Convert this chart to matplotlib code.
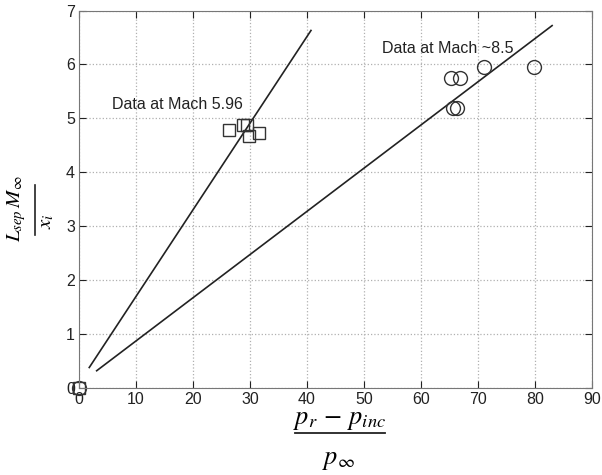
import matplotlib
matplotlib.use("Agg")
import matplotlib.pyplot as plt
from matplotlib.lines import Line2D

# data
sq_x = [0, 26.4, 28.7, 29.5, 29.9, 31.5]
sq_y = [0, 4.78, 4.88, 4.88, 4.67, 4.72]
circ_x = [0, 65.3, 66.9, 71.0, 79.8, 65.6, 66.4]
circ_y = [0, 5.74, 5.74, 5.95, 5.95, 5.20, 5.20]

fit1_x = [1.8, 40.7]
fit1_y = [0.38, 6.63]
fit2_x = [3.1, 83.0]
fit2_y = [0.32, 6.72]

xticks = list(range(0, 91, 10))
yticks = list(range(0, 8))

plt.rcParams["font.family"] = ["Liberation Sans", "DejaVu Sans"]
plt.rcParams["mathtext.fontset"] = "stix"

W, H = 602, 475
fig = plt.figure(figsize=(W / 100, H / 100), dpi=100)
ax = fig.add_axes([79 / W, 1 - 388 / H, (592 - 79) / W, (388 - 10.5) / H])

ax.plot(fit1_x, fit1_y, color="#222222", lw=1.2)
ax.plot(fit2_x, fit2_y, color="#222222", lw=1.2)
ax.plot(sq_x, sq_y, ls="none", marker="s", ms=9, mfc="none", mec="#333333",
        mew=1.0, clip_on=False)
ax.plot(circ_x, circ_y, ls="none", marker="o", ms=10, mfc="none", mec="#333333",
        mew=1.0, clip_on=False)

ax.text(5.8, 5.25, "Data at Mach 5.96", fontsize=11.5, va="center", color="#222222")
ax.text(53.2, 6.3, "Data at Mach ~8.5", fontsize=11.5, va="center", color="#222222")

ax.set_xlim(0, 90)
ax.set_ylim(0, 7)
ax.set_xticks(xticks)
ax.set_yticks(yticks)
ax.tick_params(direction="in", length=5, labelsize=11.5, colors="#222222",
               top=True, right=True, pad=3)
ax.grid(True, ls=":", color="#b0b0b0", lw=0.9)
for s in ax.spines.values():
    s.set_color("#777777")

# x label as a stacked fraction
fig.text(340 / W, 1 - 420 / H, r"$p_r\,-\,p_{inc}$", fontsize=19, ha="center", va="center")
fig.add_artist(Line2D([295 / W, 385 / W], [1 - 433 / H, 1 - 433 / H], color="#222222", lw=1.3))
fig.text(339 / W, 1 - 460 / H, r"$p_{\infty}$", fontsize=19, ha="center", va="center")

# y label as a rotated fraction
fig.text(17 / W, 1 - 209 / H, r"$L_{sep}\,M_{\infty}$", fontsize=15, rotation=90,
         ha="center", va="center")
fig.add_artist(Line2D([35 / W, 35 / W], [1 - 185 / H, 1 - 235 / H], color="#222222", lw=1.2))
fig.text(46 / W, 1 - 221 / H, r"$x_i$", fontsize=15, rotation=90, ha="center", va="center")

fig.savefig("out.png", dpi=100)
